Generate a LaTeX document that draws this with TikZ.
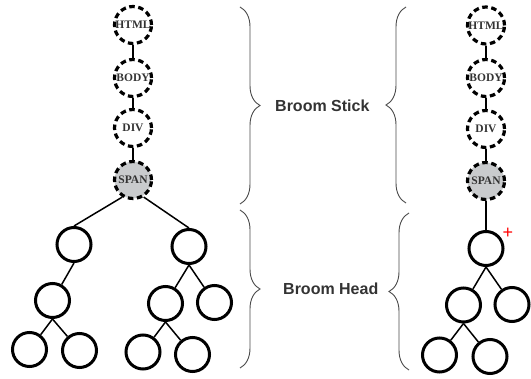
\documentclass[tikz,border=0pt]{standalone}
\usepackage{fontspec}
\setmainfont{Liberation Serif}
\newfontfamily\sansb{Liberation Sans}
\usetikzlibrary{decorations.pathreplacing}
\definecolor{labelgray}{HTML}{333333}
\definecolor{spanfill}{HTML}{C9CBCD}
\definecolor{bracegray}{HTML}{4A4A4A}
\begin{document}
\begin{tikzpicture}[x=1pt,y=-1pt,
  tagnode/.style={circle,draw=black,line width=3.2pt,dash pattern=on 5.5pt off 3.6pt,
    minimum size=37pt,inner sep=0pt,font=\fontsize{11.5}{12}\selectfont\bfseries,text=labelgray},
  spannode/.style={tagnode,fill=spanfill},
  leaf/.style={circle,draw=black,line width=3pt,minimum size=34pt,inner sep=0pt},
  chain/.style={line width=2pt,black},
  edge/.style={line width=1.5pt,black},
  bracestyle/.style={decorate,decoration={brace,amplitude=20pt},line width=0.9pt,draw=bracegray},
  bracelabel/.style={anchor=west,font=\sansb\fontsize{16}{18}\selectfont\bfseries,text=labelgray,inner sep=0pt}
]
\useasboundingbox (0,0) rectangle (531,379);

% left chain
\node[tagnode] (lhtml) at (133,25) {HTML};
\node[tagnode] (lbody) at (133,78) {BODY};
\node[tagnode] (ldiv)  at (133,128) {DIV};
\node[spannode] (lspan) at (133,180) {SPAN};
\draw[chain] (lhtml) -- (lbody);
\draw[chain] (lbody) -- (ldiv);
\draw[chain] (ldiv) -- (lspan);

% left tree
\node[leaf] (a1) at (74,244.5) {};
\node[leaf] (a2) at (189,246.5) {};
\node[leaf] (b1) at (52.5,300.5) {};
\node[leaf] (b2) at (165.5,303.5) {};
\node[leaf] (b3) at (214.5,302.5) {};
\node[leaf] (c1) at (29.5,349.5) {};
\node[leaf] (c2) at (79.5,350.5) {};
\node[leaf] (c3) at (143,352) {};
\node[leaf] (c4) at (192.5,354.5) {};
\draw[edge] (lspan.-122) -- (a1.north);
\draw[edge] (lspan.-58) -- (a2.north);
\draw[edge] (a1.south) -- (b1);
\draw[edge] (a2.south) -- (b2);
\draw[edge] (a2.south) -- (b3);
\draw[edge] (b1.south) -- (c1);
\draw[edge] (b1.south) -- (c2);
\draw[edge] (b2.south) -- (c3);
\draw[edge] (b2.south) -- (c4);

% right chain
\node[tagnode] (rhtml) at (486,25.5) {HTML};
\node[tagnode] (rbody) at (486,78) {BODY};
\node[tagnode] (rdiv)  at (486,129) {DIV};
\node[spannode] (rspan) at (486,181) {SPAN};
\draw[chain] (rhtml) -- (rbody);
\draw[chain] (rbody) -- (rdiv);
\draw[chain] (rdiv) -- (rspan);

% right tree
\node[leaf] (d1) at (486,248.5) {};
\node[leaf] (e1) at (463.5,305) {};
\node[leaf] (e2) at (512,304.5) {};
\node[leaf] (f1) at (439.5,355) {};
\node[leaf] (f2) at (490,356.5) {};
\draw[chain] (rspan) -- (d1);
\draw[edge] (d1.south) -- (e1);
\draw[edge] (d1.south) -- (e2);
\draw[edge] (e1.south) -- (f1);
\draw[edge] (e1.south) -- (f2);
\node[text=red,font=\sansb\fontsize{18}{18}\selectfont,inner sep=0pt] (plus) at (508,233) {+};

% braces
\coordinate (s1t) at (240,7);
\coordinate (s1b) at (240,204);
\coordinate (h1t) at (240,210);
\coordinate (h1b) at (240,368);
\coordinate (s2t) at (406,7);
\coordinate (s2b) at (406,203);
\coordinate (h2t) at (409,213);
\coordinate (h2b) at (409,370);
\draw[bracestyle] (s1t) -- (s1b);
\draw[bracestyle] (h1t) -- (h1b);
\draw[bracestyle] (s2b) -- (s2t);
\draw[bracestyle] (h2b) -- (h2t);
\node[bracelabel] (stick) at (275,106) {Broom Stick};
\node[bracelabel] (head) at (283,289) {Broom Head};
\end{tikzpicture}
\end{document}
